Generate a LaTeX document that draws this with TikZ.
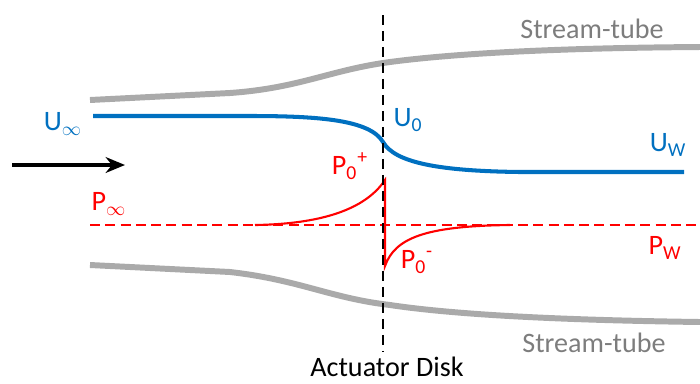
\documentclass[tikz,border=0pt]{standalone}
\usepackage{fontspec}
\setmainfont{Carlito}
\usepackage{tikz}
\usetikzlibrary{arrows.meta,positioning,calc}
\definecolor{flowblue}{RGB}{0,112,192}
\definecolor{tubegray}{RGB}{170,170,170}
\definecolor{labgray}{RGB}{125,125,125}

\begin{document}
\begin{tikzpicture}[x=0.02cm,y=-0.02cm,font=\fontsize{16}{19}\selectfont,
  lab/.style={inner sep=0pt},
  tube/.style={tubegray,line width=3.4pt},
  vel/.style={flowblue,line width=2.3pt},
  pres/.style={red,line width=1.2pt},
  arr/.style={-{Stealth[length=11pt,width=9pt]},line width=2.2pt}]
\useasboundingbox (0,0) rectangle (700,383);
% labels
\node[lab,labgray](sttop) at(592,29){Stream-tube};
\node[lab,labgray](stbot) at(594,343){Stream-tube};
\node[lab](disk) at(387,367){Actuator Disk};
\node[lab,flowblue](uinf) at(63,124){U\textsubscript{$\infty$}};
\node[lab,flowblue](uzero) at(408,120){U\textsubscript{0}};
\node[lab,flowblue](uw) at(668,145){U\textsubscript{W}};
\node[lab,red](pinf) at(109,204){P\textsubscript{$\infty$}};
\node[lab,red](pplus) at(350,166){P\textsubscript{0}\textsuperscript{+}};
\node[lab,red](pminus) at(417,262){P\textsubscript{0}\textsuperscript{-}};
\node[lab,red](pw) at(665,248){P\textsubscript{W}};
% stream tubes
\draw[tube](90,100)--(230,93) .. controls (300,88) and (330,70) .. (390,62)
  .. controls (450,54) and (550,48) .. (700,47);
\draw[tube](90,265)--(230,272) .. controls (300,280) and (330,298) .. (390,305)
  .. controls (450,314) and (550,320) .. (700,322);
% pressure
\draw[red,line width=1.4pt,dash pattern=on 5.7pt off 3pt](90,225)--(700,225);
\draw[pres](255,225) .. controls (320,224) and (365,210) .. (385,180)--(385,266)
  .. controls (395,238) and (425,226) .. (510,225);
% velocity
\draw[vel](93,116)--(250,116) .. controls (320,116) and (370,120) .. (383,142)
  .. controls (395,163) and (440,171) .. (520,172)--(684,172);
% disk
\coordinate(dtop) at(383,15);
\coordinate(dbot) at(383,352);
\draw[line width=1.7pt,dash pattern=on 5.7pt off 3.4pt](dtop)--(dbot);
% inflow
\coordinate(ina) at(12,165);
\coordinate(inb) at(125,165);
\draw[arr](ina)--(inb);
\end{tikzpicture}
\end{document}
